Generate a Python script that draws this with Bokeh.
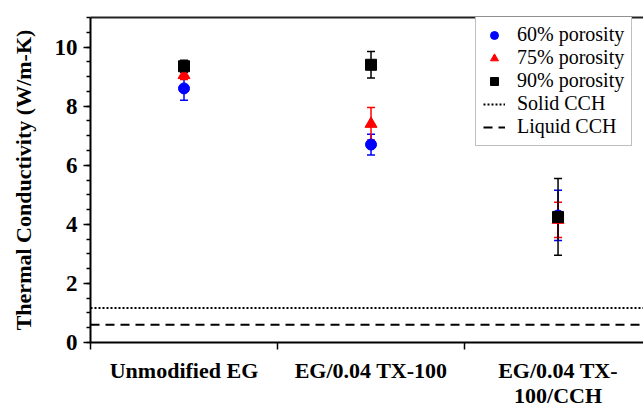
from bokeh.plotting import figure
from bokeh.models import (Range1d, FixedTicker, LinearAxis, Whisker, ColumnDataSource,
                          Legend, LegendItem, TeeHead)
from bokeh.embed import file_html
from bokeh.resources import INLINE

# ---- data ----
categories = ["Unmodified EG", "EG/0.04 TX-100", "EG/0.04 TX-100/CCH"]
cat_pos = [0.5, 1.5, 2.5]
cat_bounds = [0, 1, 2]
tick_labels = ["Unmodified EG", "EG/0.04 TX-100", "EG/0.04 TX-\n100/CCH"]
series_names = ["60% porosity", "75% porosity", "90% porosity"]
k60 = [8.6, 6.7, 4.3]
e60 = [0.4, 0.35, 0.85]
k75 = [9.05, 7.4, 4.15]
e75 = [0.15, 0.55, 0.6]
k90 = [9.35, 9.4, 4.25]
e90 = [0.2, 0.45, 1.3]
solid_cch = 1.17
liquid_cch = 0.6
y_major = [0, 2, 4, 6, 8, 10]
y_minor = [i * 0.5 for i in range(23)]

FONT = "Liberation Serif"
X_END = 2.957

p = figure(width=643, height=410, output_backend="svg", toolbar_location=None,
           x_range=Range1d(0, X_END), y_range=Range1d(0, 11),
           min_border_left=90, min_border_top=17, min_border_bottom=66, min_border_right=0,
           x_axis_location=None, y_axis_location=None)
p.background_fill_color = "white"
p.border_fill_color = "white"
p.outline_line_color = None
p.xgrid.grid_line_color = None
p.ygrid.grid_line_color = None

# y axis
yax = LinearAxis(ticker=FixedTicker(ticks=y_major, minor_ticks=y_minor),
                 axis_label="Thermal Conductivity (W/m-K)")
yax.axis_line_width = 2
yax.axis_line_color = "black"
yax.major_tick_in = 0
yax.major_tick_out = 7
yax.minor_tick_in = 0
yax.minor_tick_out = 4
yax.major_tick_line_width = 1.5
yax.minor_tick_line_width = 1.5
yax.major_tick_line_color = "black"
yax.minor_tick_line_color = "black"
yax.major_label_text_font = FONT
yax.major_label_text_font_style = "bold"
yax.major_label_text_font_size = "23px"
yax.major_label_text_color = "black"
yax.major_label_standoff = 6
yax.axis_label_text_font = FONT
yax.axis_label_text_font_style = "bold"
yax.axis_label_text_font_size = "22px"
yax.axis_label_text_color = "black"
yax.axis_label_standoff = 16
p.add_layout(yax, "left")

# x axis
xax = LinearAxis(ticker=FixedTicker(ticks=cat_pos, minor_ticks=cat_bounds))
xax.major_label_overrides = {pos: lab for pos, lab in zip(cat_pos, tick_labels)}
xax.axis_line_width = 2
xax.axis_line_color = "black"
xax.major_tick_line_color = None
xax.major_tick_in = 0
xax.major_tick_out = 0
xax.minor_tick_in = 0
xax.minor_tick_out = 7
xax.minor_tick_line_width = 1.5
xax.minor_tick_line_color = "black"
xax.major_label_text_font = FONT
xax.major_label_text_font_style = "bold"
xax.major_label_text_font_size = "22px"
xax.major_label_text_line_height = 1.0
xax.major_label_text_color = "black"
xax.major_label_standoff = 8
p.add_layout(xax, "below")

# top border
tax = LinearAxis(ticker=FixedTicker(ticks=[]))
tax.axis_line_width = 2
tax.axis_line_color = "#222222"
tax.major_tick_line_color = None
tax.minor_tick_line_color = None
tax.major_label_text_font_size = "0px"
p.add_layout(tax, "above")

# reference lines
r_solid = p.line([0, X_END], [solid_cch, solid_cch], line_color="black", line_width=2,
                 line_dash="2 2")
r_liquid = p.line([0, X_END], [liquid_cch, liquid_cch], line_color="black", line_width=2,
                  line_dash="9 6")

series = [
    (k60, e60, "#0000ff", "circle", 11),
    (k75, e75, "#ff0000", "triangle", 12),
    (k90, e90, "black", "square", 11),
]
renderers = []
for vals, errs, color, marker, size in series:
    src = ColumnDataSource(dict(x=cat_pos, y=vals,
                                upper=[v + e for v, e in zip(vals, errs)],
                                lower=[v - e for v, e in zip(vals, errs)]))
    w = Whisker(base="x", upper="upper", lower="lower", source=src,
                line_color=color, line_width=1.5,
                upper_head=TeeHead(size=8, line_color=color, line_width=1.5),
                lower_head=TeeHead(size=8, line_color=color, line_width=1.5))
    p.add_layout(w)
    r = p.scatter("x", "y", source=src, marker=marker, size=size,
                  fill_color=color, line_color=color)
    renderers.append(r)

items = [LegendItem(label=n, renderers=[r]) for n, r in zip(series_names, renderers)]
items.append(LegendItem(label="Solid CCH", renderers=[r_solid]))
items.append(LegendItem(label="Liquid CCH", renderers=[r_liquid]))
legend = Legend(items=items, location=(385, 196))
legend.label_text_font = FONT
legend.label_text_font_size = "20px"
legend.label_text_color = "black"
legend.label_height = 20
legend.glyph_height = 20
legend.glyph_width = 22
legend.label_standoff = 12
legend.spacing = 0
legend.padding = 7
legend.margin = 0
legend.border_line_color = "#808080"
legend.border_line_width = 1
legend.background_fill_color = "white"
legend.background_fill_alpha = 1
p.add_layout(legend)

open("out.html", "w").write(file_html(p, INLINE))
